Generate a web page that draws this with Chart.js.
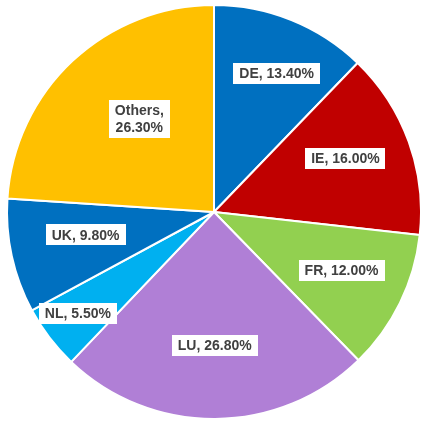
<!DOCTYPE html>
<html>
<head>
<meta charset="utf-8">
<script src="https://cdn.jsdelivr.net/npm/chart.js@4"></script>
<style>
  html, body { margin: 0; padding: 0; background: #fff; }
  #wrap { width: 422px; height: 423px; }
</style>
</head>
<body>
<div id="wrap"><canvas id="pieChart"></canvas></div>
<script>
// categories and values
const countries = ['DE', 'IE', 'FR', 'LU', 'NL', 'UK', 'Others']
const shares = [13.4, 16.0, 12.0, 26.8, 5.5, 9.8, 26.3]

// slice colours
const sliceColors = ['#0070C0', '#C00000', '#92D050', '#B07FD6', '#00B0F0', '#0070C0', '#FFC000']

// label placement: fraction of radius, and angle shift in degrees from slice middle
const labelRadius = [0.734, 0.686, 0.678, 0.644, 0.82, 0.63, 0.578]
const labelShift = [2.4, -2.4, -1.4, 0, 0.7, 2.2, 4.5]
// labels that wrap onto two lines
const wrapLabel = [false, false, false, false, false, false, true]

// plugin to draw boxed data labels
const boxLabels = {
    id: 'boxLabels',
    afterDatasetsDraw(chart) {
        const ctx = chart.ctx
        const meta = chart.getDatasetMeta(0)
        ctx.save()
        ctx.font = 'bold 14px "Liberation Sans", Arial, sans-serif'
        ctx.textAlign = 'center'
        ctx.textBaseline = 'middle'
        meta.data.forEach((arc, i) => {
            const p = arc.getProps(['x', 'y', 'startAngle', 'endAngle', 'outerRadius'], true)
            const mid = (p.startAngle + p.endAngle) / 2 + labelShift[i] * Math.PI / 180
            const r = p.outerRadius * labelRadius[i]
            const cx = p.x + Math.cos(mid) * r
            const cy = p.y + Math.sin(mid) * r
            const value = shares[i].toFixed(2) + '%'
            const lines = wrapLabel[i] ? [countries[i] + ',', value] : [countries[i] + ', ' + value]
            const lineH = 17
            const w = Math.max(...lines.map(l => ctx.measureText(l).width)) + 12
            const h = lines.length * lineH + 4
            ctx.fillStyle = '#ffffff'
            ctx.fillRect(Math.round(cx - w / 2), Math.round(cy - h / 2), Math.round(w), Math.round(h))
            ctx.fillStyle = '#404040'
            lines.forEach((l, j) => {
                ctx.fillText(l, cx, cy - (lines.length - 1) * lineH / 2 + j * lineH + 1)
            })
        })
        ctx.restore()
    }
}

// create chart
new Chart(document.getElementById('pieChart').getContext('2d'), {
    type: 'pie',
    data: {
        labels: countries,
        datasets: [{
            data: shares,
            backgroundColor: sliceColors,
            borderColor: '#ffffff',
            borderWidth: 2
        }]
    },
    options: {
        responsive: true,
        maintainAspectRatio: false,
        animation: false,
        layout: { padding: { left: 6, right: 0, top: 4, bottom: 3 } },
        plugins: {
            legend: { display: false },
            tooltip: { enabled: false }
        }
    },
    plugins: [boxLabels]
})
</script>
</body>
</html>
